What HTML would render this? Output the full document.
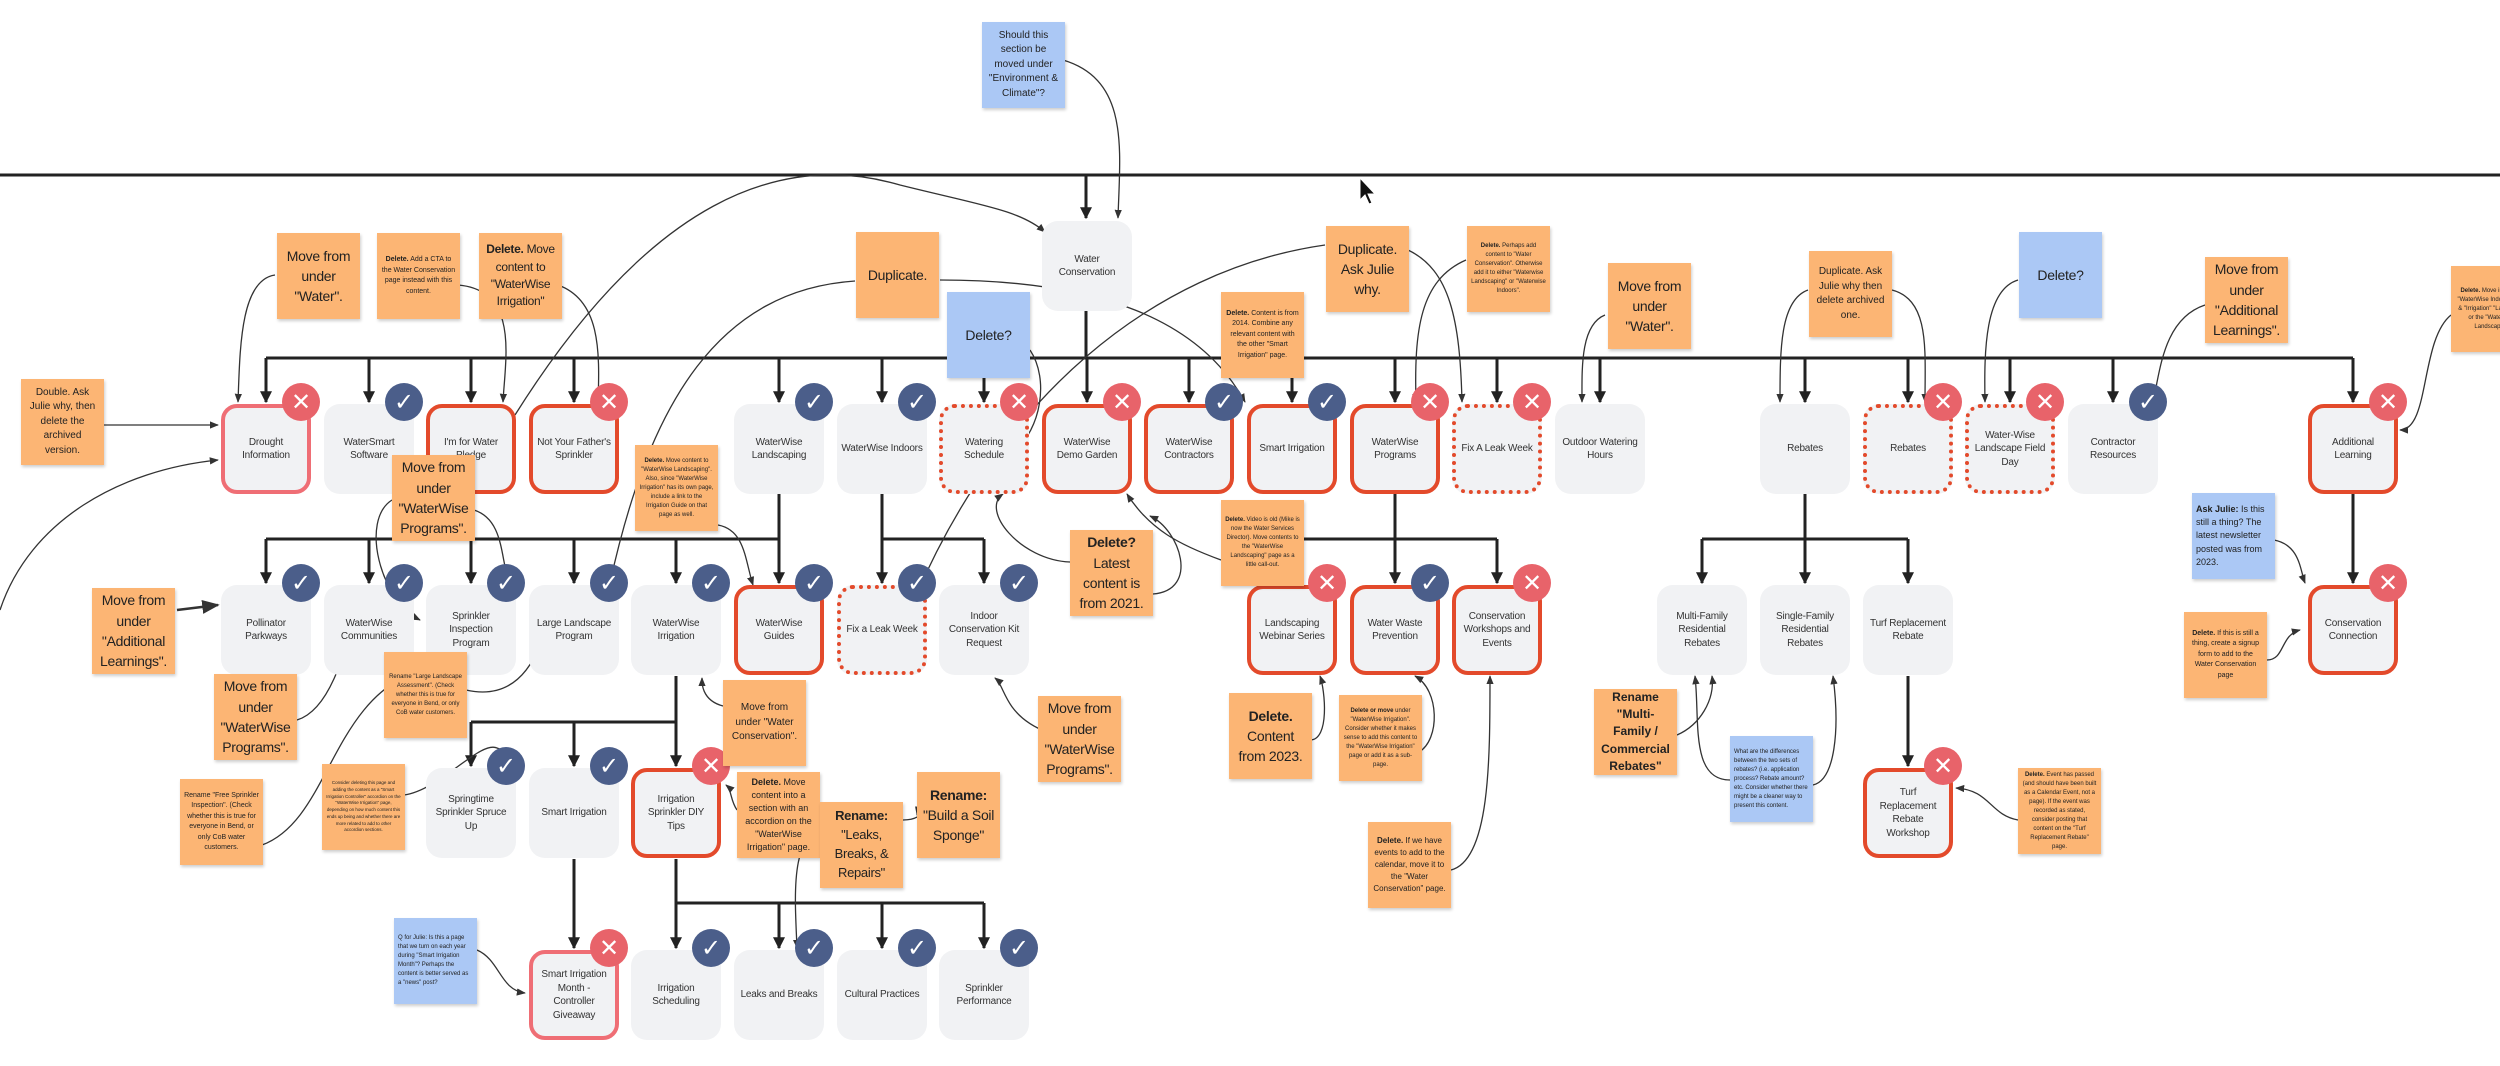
<!DOCTYPE html>
<html><head><meta charset="utf-8"><style>
body{margin:0;width:2500px;height:1066px;background:#fff;position:relative;overflow:hidden;font-family:"Liberation Sans",sans-serif}
.n{position:absolute;width:90px;height:90px;background:#f1f2f4;border-radius:16px;display:flex;align-items:center;justify-content:center;text-align:center;font-size:10px;line-height:1.35;color:#333;box-sizing:border-box;padding:4px;letter-spacing:-0.2px}
.r{border:4px solid #e34a2b}.p{border:4px solid #ef6e75}.d{border:4px dotted #e34a2b}
.b{position:absolute;width:38px;height:38px;border-radius:50%;color:#fff;font-size:24px;line-height:38px;text-align:center;font-family:"DejaVu Sans",sans-serif}
.x{background:#e8636a}.c{background:#4b5e8a}
.s{position:absolute;width:83px;height:86px;background:#fcb574;box-shadow:1px 2px 3px rgba(0,0,0,.2);display:flex;align-items:center;justify-content:center;text-align:center;color:#222;padding:4px;box-sizing:border-box;font-size:14px;line-height:1.45;letter-spacing:-0.3px}
.bl{background:#abc8f5}
.sm{font-size:6px;line-height:1.5;letter-spacing:0}
.md{font-size:10px;line-height:1.45;letter-spacing:0}
svg{position:absolute;left:0;top:0}
</style></head><body>
<svg width="2500" height="1066" viewBox="0 0 2500 1066">
<defs><marker id="a" viewBox="0 0 10 10" refX="9" refY="5" markerWidth="4" markerHeight="4" orient="auto"><path d="M0,0L10,5L0,10z" fill="#222"/></marker>
<marker id="t" viewBox="0 0 10 10" refX="9" refY="5" markerWidth="7" markerHeight="7" orient="auto"><path d="M0,1L10,5L0,9z" fill="#333"/></marker></defs>
<g stroke="#222" stroke-width="3" fill="none">
<line x1="0" y1="175" x2="2500" y2="175"/>
<line x1="1086" y1="175" x2="1086" y2="218" marker-end="url(#a)"/>
<line x1="1086" y1="311" x2="1086" y2="358"/>
<line x1="266" y1="358" x2="2353" y2="358"/>
<g marker-end="url(#a)">
<line x1="266" y1="358" x2="266" y2="402"/><line x1="369" y1="358" x2="369" y2="402"/><line x1="471" y1="358" x2="471" y2="402"/><line x1="574" y1="358" x2="574" y2="402"/>
<line x1="779" y1="358" x2="779" y2="402"/><line x1="882" y1="358" x2="882" y2="402"/><line x1="984" y1="358" x2="984" y2="402"/><line x1="1087" y1="358" x2="1087" y2="402"/>
<line x1="1189" y1="358" x2="1189" y2="402"/><line x1="1292" y1="358" x2="1292" y2="402"/><line x1="1395" y1="358" x2="1395" y2="402"/><line x1="1497" y1="358" x2="1497" y2="402"/>
<line x1="1600" y1="358" x2="1600" y2="402"/><line x1="1805" y1="358" x2="1805" y2="402"/><line x1="1908" y1="358" x2="1908" y2="402"/><line x1="2010" y1="358" x2="2010" y2="402"/>
<line x1="2113" y1="358" x2="2113" y2="402"/><line x1="2353" y1="358" x2="2353" y2="402"/>
</g>
<line x1="779" y1="494" x2="779" y2="539"/><line x1="266" y1="539" x2="779" y2="539"/>
<line x1="882" y1="494" x2="882" y2="539"/><line x1="882" y1="539" x2="984" y2="539"/>
<line x1="1395" y1="494" x2="1395" y2="539"/><line x1="1292" y1="539" x2="1497" y2="539"/>
<line x1="1805" y1="494" x2="1805" y2="539"/><line x1="1702" y1="539" x2="1908" y2="539"/>
<line x1="676" y1="676" x2="676" y2="722"/><line x1="471" y1="722" x2="676" y2="722"/>
<line x1="676" y1="859" x2="676" y2="903"/><line x1="676" y1="903" x2="984" y2="903"/>
<g marker-end="url(#a)">
<line x1="266" y1="539" x2="266" y2="583"/><line x1="369" y1="539" x2="369" y2="583"/><line x1="471" y1="539" x2="471" y2="583"/><line x1="574" y1="539" x2="574" y2="583"/><line x1="676" y1="539" x2="676" y2="583"/><line x1="779" y1="539" x2="779" y2="583"/>
<line x1="882" y1="539" x2="882" y2="583"/><line x1="984" y1="539" x2="984" y2="583"/>
<line x1="1292" y1="539" x2="1292" y2="583"/><line x1="1395" y1="539" x2="1395" y2="583"/><line x1="1497" y1="539" x2="1497" y2="583"/>
<line x1="1702" y1="539" x2="1702" y2="583"/><line x1="1805" y1="539" x2="1805" y2="583"/><line x1="1908" y1="539" x2="1908" y2="583"/>
<line x1="2353" y1="494" x2="2353" y2="583"/>
<line x1="471" y1="722" x2="471" y2="766"/><line x1="574" y1="722" x2="574" y2="766"/><line x1="676" y1="722" x2="676" y2="766"/>
<line x1="574" y1="859" x2="574" y2="948"/>
<line x1="676" y1="903" x2="676" y2="948"/><line x1="779" y1="903" x2="779" y2="948"/><line x1="882" y1="903" x2="882" y2="948"/><line x1="984" y1="903" x2="984" y2="948"/>
<line x1="1908" y1="676" x2="1908" y2="766"/>
</g>
</g>
<g stroke="#333" stroke-width="1.3" fill="none" marker-end="url(#t)">
<path d="M1063,60 C1130,80 1120,150 1118,218"/>
<path d="M515,415 C650,200 780,150 900,185 C980,205 1020,210 1045,232"/>
<path d="M855,281 C720,290 650,400 610,583"/>
<path d="M940,280 C1100,280 1200,320 1245,402"/>
<path d="M1325,245 C1150,270 1000,400 915,598"/>
<path d="M275,275 C240,280 240,350 238,402"/>
<path d="M458,285 C520,290 505,360 503,402"/>
<path d="M558,285 C600,300 600,350 598,402"/>
<path d="M1408,250 C1450,270 1460,320 1462,402"/>
<path d="M1466,260 C1420,280 1414,330 1416,402"/>
<path d="M1605,315 C1580,325 1582,370 1582,402"/>
<path d="M1808,290 C1780,300 1780,350 1780,402"/>
<path d="M1892,290 C1930,300 1925,350 1925,402"/>
<path d="M2018,280 C1985,290 1984,350 1985,402"/>
<path d="M2205,305 C2160,320 2160,380 2152,404"/>
<path d="M2451,315 C2420,340 2430,430 2400,430"/>
<path d="M1030,350 C1050,380 1040,430 1015,450"/>
<path d="M103,425 L218,425"/>
<path d="M0,610 C30,520 120,470 218,460"/>
<path d="M177,610 L218,605" stroke-width="2.5"/>
<path d="M718,525 C745,530 745,560 753,585"/>
<path d="M392,500 C360,520 380,600 420,620"/>
<path d="M474,510 C505,520 500,560 510,585"/>
<path d="M1153,594 C1200,590 1180,530 1150,516"/>
<path d="M1221,560 C1180,545 1150,530 1127,494"/>
<path d="M1070,562 C1020,560 980,510 1003,494"/>
<path d="M297,720 C330,710 345,650 350,630"/>
<path d="M466,690 C510,700 530,670 540,645"/>
<path d="M262,845 C330,820 330,700 420,670"/>
<path d="M723,706 C700,700 702,680 702,678"/>
<path d="M1121,745 C1000,740 1010,690 995,678"/>
<path d="M404,795 C440,790 480,740 497,748 C510,752 510,760 513,766"/>
<path d="M737,810 C730,800 732,790 726,785"/>
<path d="M903,820 C930,820 920,800 917,815"/>
<path d="M820,830 C790,840 795,900 797,948"/>
<path d="M477,950 C500,960 500,990 525,993"/>
<path d="M1310,740 C1330,740 1325,690 1320,676"/>
<path d="M1419,752 C1440,740 1440,690 1415,676"/>
<path d="M1451,870 C1490,860 1490,760 1490,676"/>
<path d="M1677,735 C1700,725 1715,700 1712,676"/>
<path d="M1730,780 C1690,780 1700,720 1695,676"/>
<path d="M1813,785 C1835,780 1840,730 1833,676"/>
<path d="M2018,820 C1990,815 1990,790 1956,788"/>
<path d="M2274,540 C2300,545 2300,570 2305,583"/>
<path d="M2267,660 C2285,660 2280,635 2300,630"/>
</g>
<path d="M1360,178 L1360,200 L1365,195 L1369,204 L1372,203 L1368,194 L1375,194 Z" fill="#111" stroke="#fff" stroke-width="1"/>
</svg>

<!-- Row 1 -->
<div class="n p" style="left:221px;top:404px">Drought Information</div><div class="b x" style="left:282px;top:383px">✕</div>
<div class="n" style="left:324px;top:404px">WaterSmart Software</div><div class="b c" style="left:385px;top:383px">✓</div>
<div class="n r" style="left:426px;top:404px">I'm for Water Pledge</div>
<div class="n r" style="left:529px;top:404px">Not Your Father's Sprinkler</div><div class="b x" style="left:590px;top:383px">✕</div>
<div class="n" style="left:734px;top:404px">WaterWise Landscaping</div><div class="b c" style="left:795px;top:383px">✓</div>
<div class="n" style="left:837px;top:404px">WaterWise Indoors</div><div class="b c" style="left:898px;top:383px">✓</div>
<div class="n d" style="left:939px;top:404px">Watering Schedule</div><div class="b x" style="left:1000px;top:383px">✕</div>
<div class="n" style="left:1042px;top:221px">Water Conservation</div>
<div class="n r" style="left:1042px;top:404px">WaterWise Demo Garden</div><div class="b x" style="left:1103px;top:383px">✕</div>
<div class="n r" style="left:1144px;top:404px">WaterWise Contractors</div><div class="b c" style="left:1205px;top:383px">✓</div>
<div class="n r" style="left:1247px;top:404px">Smart Irrigation</div><div class="b c" style="left:1308px;top:383px">✓</div>
<div class="n r" style="left:1350px;top:404px">WaterWise Programs</div><div class="b x" style="left:1411px;top:383px">✕</div>
<div class="n d" style="left:1452px;top:404px">Fix A Leak Week</div><div class="b x" style="left:1513px;top:383px">✕</div>
<div class="n" style="left:1555px;top:404px">Outdoor Watering Hours</div>
<div class="n" style="left:1760px;top:404px">Rebates</div>
<div class="n d" style="left:1863px;top:404px">Rebates</div><div class="b x" style="left:1924px;top:383px">✕</div>
<div class="n d" style="left:1965px;top:404px">Water-Wise Landscape Field Day</div><div class="b x" style="left:2026px;top:383px">✕</div>
<div class="n" style="left:2068px;top:404px">Contractor Resources</div><div class="b c" style="left:2129px;top:383px">✓</div>
<div class="n r" style="left:2308px;top:404px">Additional Learning</div><div class="b x" style="left:2369px;top:383px">✕</div>
<!-- Row 2 -->
<div class="n" style="left:221px;top:585px">Pollinator Parkways</div><div class="b c" style="left:282px;top:564px">✓</div>
<div class="n" style="left:324px;top:585px">WaterWise Communities</div><div class="b c" style="left:385px;top:564px">✓</div>
<div class="n" style="left:426px;top:585px">Sprinkler Inspection Program</div><div class="b c" style="left:487px;top:564px">✓</div>
<div class="n" style="left:529px;top:585px">Large Landscape Program</div><div class="b c" style="left:590px;top:564px">✓</div>
<div class="n" style="left:631px;top:585px">WaterWise Irrigation</div><div class="b c" style="left:692px;top:564px">✓</div>
<div class="n r" style="left:734px;top:585px">WaterWise Guides</div><div class="b c" style="left:795px;top:564px">✓</div>
<div class="n d" style="left:837px;top:585px">Fix a Leak Week</div><div class="b c" style="left:898px;top:564px">✓</div>
<div class="n" style="left:939px;top:585px">Indoor Conservation Kit Request</div><div class="b c" style="left:1000px;top:564px">✓</div>
<div class="n r" style="left:1247px;top:585px">Landscaping Webinar Series</div><div class="b x" style="left:1308px;top:564px">✕</div>
<div class="n r" style="left:1350px;top:585px">Water Waste Prevention</div><div class="b c" style="left:1411px;top:564px">✓</div>
<div class="n r" style="left:1452px;top:585px">Conservation Workshops and Events</div><div class="b x" style="left:1513px;top:564px">✕</div>
<div class="n" style="left:1657px;top:585px">Multi-Family Residential Rebates</div>
<div class="n" style="left:1760px;top:585px">Single-Family Residential Rebates</div>
<div class="n" style="left:1863px;top:585px">Turf Replacement Rebate</div>
<div class="n r" style="left:2308px;top:585px">Conservation Connection</div><div class="b x" style="left:2369px;top:564px">✕</div>
<!-- Row 3 -->
<div class="n" style="left:426px;top:768px">Springtime Sprinkler Spruce Up</div><div class="b c" style="left:487px;top:747px">✓</div>
<div class="n" style="left:529px;top:768px">Smart Irrigation</div><div class="b c" style="left:590px;top:747px">✓</div>
<div class="n r" style="left:631px;top:768px">Irrigation Sprinkler DIY Tips</div><div class="b x" style="left:692px;top:747px">✕</div>
<div class="n r" style="left:1863px;top:768px">Turf Replacement Rebate Workshop</div><div class="b x" style="left:1924px;top:747px">✕</div>
<!-- Row 4 -->
<div class="n p" style="left:529px;top:950px">Smart Irrigation Month - Controller Giveaway</div><div class="b x" style="left:590px;top:929px">✕</div>
<div class="n" style="left:631px;top:950px">Irrigation Scheduling</div><div class="b c" style="left:692px;top:929px">✓</div>
<div class="n" style="left:734px;top:950px">Leaks and Breaks</div><div class="b c" style="left:795px;top:929px">✓</div>
<div class="n" style="left:837px;top:950px">Cultural Practices</div><div class="b c" style="left:898px;top:929px">✓</div>
<div class="n" style="left:939px;top:950px">Sprinkler Performance</div><div class="b c" style="left:1000px;top:929px">✓</div>

<!-- Stickies -->
<div class="s bl md" style="left:982px;top:22px">Should this section be moved under "Environment &amp; Climate"?</div>
<div class="s" style="left:277px;top:233px">Move from under "Water".</div>
<div class="s sm" style="left:377px;top:233px;font-size:7px"><div><b>Delete.</b> Add a CTA to the Water Conservation page instead with this content.</div></div>
<div class="s" style="left:479px;top:233px;font-size:12px"><div><b>Delete.</b> Move content to "WaterWise Irrigation"</div></div>
<div class="s" style="left:856px;top:232px">Duplicate.</div>
<div class="s bl" style="left:947px;top:292px">Delete?</div>
<div class="s" style="left:1326px;top:226px">Duplicate. Ask Julie why.</div>
<div class="s sm" style="left:1467px;top:226px"><div><b>Delete.</b> Perhaps add content to "Water Conservation". Otherwise add it to either "Waterwise Landscaping" or "Waterwise Indoors".</div></div>
<div class="s sm" style="left:1221px;top:292px;font-size:7px"><div><b>Delete.</b> Content is from 2014. Combine any relevant content with the other "Smart Irrigation" page.</div></div>
<div class="s" style="left:1608px;top:263px">Move from under "Water".</div>
<div class="s md" style="left:1809px;top:251px">Duplicate. Ask Julie why then delete archived one.</div>
<div class="s bl" style="left:2019px;top:232px">Delete?</div>
<div class="s" style="left:2205px;top:257px">Move from under "Additional Learnings".</div>
<div class="s sm" style="left:2451px;top:266px"><div><b>Delete.</b> Move info to the "WaterWise Indoors" page &amp; "Irrigation" "Landscape" or the "WaterWise Landscaping"</div></div>
<div class="s md" style="left:21px;top:379px">Double. Ask Julie why, then delete the archived version.</div>
<div class="s" style="left:392px;top:455px">Move from under "WaterWise Programs".</div>
<div class="s sm" style="left:635px;top:445px"><div><b>Delete.</b> Move content to "WaterWise Landscaping". Also, since "WaterWise Irrigation" has its own page, include a link to the Irrigation Guide on that page as well.</div></div>
<div class="s" style="left:1070px;top:530px"><div><b>Delete?</b> Latest content is from 2021.</div></div>
<div class="s sm" style="left:1221px;top:500px"><div><b>Delete.</b> Video is old (Mike is now the Water Services Director). Move contents to the "WaterWise Landscaping" page as a little call-out.</div></div>
<div class="s bl md" style="left:2192px;top:493px;font-size:9px;text-align:left"><div><b>Ask Julie:</b> Is this still a thing? The latest newsletter posted was from 2023.</div></div>
<div class="s sm" style="left:2184px;top:612px;font-size:7px"><div><b>Delete.</b> If this is still a thing, create a signup form to add to the Water Conservation page</div></div>
<div class="s" style="left:92px;top:588px">Move from under "Additional Learnings".</div>
<div class="s" style="left:214px;top:674px">Move from under "WaterWise Programs".</div>
<div class="s sm" style="left:384px;top:652px"><div>Rename "Large Landscape Assessment". (Check whether this is true for everyone in Bend, or only CoB water customers.</div></div>
<div class="s md" style="left:723px;top:680px">Move from under "Water Conservation".</div>
<div class="s" style="left:1038px;top:696px">Move from under "WaterWise Programs".</div>
<div class="s sm" style="left:180px;top:779px;font-size:7px"><div>Rename "Free Sprinkler Inspection". (Check whether this is true for everyone in Bend, or only CoB water customers.</div></div>
<div class="s sm" style="left:322px;top:764px;font-size:4.5px"><div>Consider deleting this page and adding the content as a "Smart Irrigation Controller" accordion on the "WaterWise Irrigation" page, depending on how much content this ends up being and whether there are more related to add to other accordion sections.</div></div>
<div class="s md" style="left:737px;top:772px;font-size:9px"><div><b>Delete.</b> Move content into a section with an accordion on the "WaterWise Irrigation" page.</div></div>
<div class="s" style="left:820px;top:802px;font-size:13px"><div><b>Rename:</b> "Leaks, Breaks, &amp; Repairs"</div></div>
<div class="s" style="left:917px;top:772px"><div><b>Rename:</b> "Build a Soil Sponge"</div></div>
<div class="s bl sm" style="left:394px;top:918px;text-align:left"><div>Q for Julie: Is this a page that we turn on each year during "Smart Irrigation Month"? Perhaps the content is better served as a "news" post?</div></div>
<div class="s" style="left:1229px;top:693px"><div><b>Delete.</b> Content from 2023.</div></div>
<div class="s sm" style="left:1339px;top:695px"><div><b>Delete or move</b> under "WaterWise Irrigation". Consider whether it makes sense to add this content to the "WaterWise Irrigation" page or add it as a sub-page.</div></div>
<div class="s sm" style="left:1368px;top:822px;font-size:8px"><div><b>Delete.</b> If we have events to add to the calendar, move it to the "Water Conservation" page.</div></div>
<div class="s md" style="left:1594px;top:689px;font-size:12px"><div><b>Rename "Multi-Family / Commercial Rebates"</b></div></div>
<div class="s bl sm" style="left:1730px;top:736px;text-align:left"><div>What are the differences between the two sets of rebates? (i.e. application process? Rebate amount? etc. Consider whether there might be a cleaner way to present this content.</div></div>
<div class="s sm" style="left:2018px;top:768px"><div><b>Delete.</b> Event has passed (and should have been built as a Calendar Event, not a page). If the event was recorded as stated, consider posting that content on the "Turf Replacement Rebate" page.</div></div>
</body></html>
